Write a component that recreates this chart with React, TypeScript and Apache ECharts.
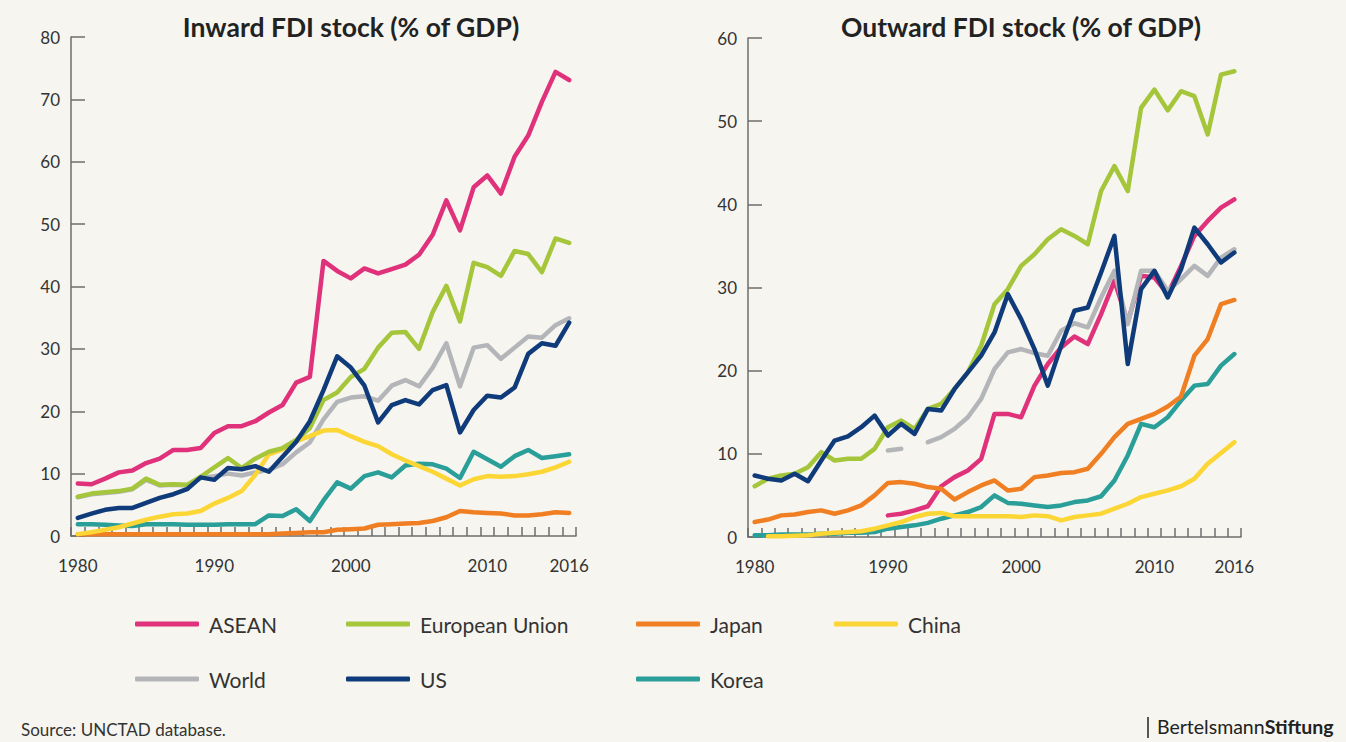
import React, { useEffect, useRef } from "react";
import * as echarts from "echarts";

const years: string[] = [];
for (let y = 1980; y <= 2016; y++) years.push(String(y));
const labelYears = ["1980", "1990", "2000", "2010", "2016"];

// Inward FDI stock (% of GDP)
const aseanIn = [8.4, 8.3, 9.2, 10.2, 10.5, 11.7, 12.4, 13.8, 13.8, 14.1, 16.5, 17.6, 17.6, 18.4, 19.8, 21.0, 24.6, 25.5, 44.1, 42.5, 41.3, 42.9, 42.1, 42.8, 43.5, 45.1, 48.3, 53.8, 49.0, 55.9, 57.8, 54.9, 60.8, 64.2, 69.6, 74.4, 73.1];
const euIn = [6.3, 6.8, 7.0, 7.2, 7.6, 9.2, 8.2, 8.3, 8.2, 9.5, 11.0, 12.5, 10.9, 12.4, 13.5, 14.1, 15.4, 17.3, 21.8, 23.0, 25.5, 26.8, 30.2, 32.6, 32.7, 30.0, 35.9, 40.1, 34.4, 43.8, 43.1, 41.7, 45.7, 45.2, 42.3, 47.7, 47.0];
const japanIn = [0.3, 0.3, 0.3, 0.3, 0.3, 0.3, 0.3, 0.3, 0.3, 0.3, 0.3, 0.3, 0.3, 0.3, 0.3, 0.4, 0.5, 0.6, 0.6, 1.0, 1.1, 1.2, 1.8, 1.9, 2.0, 2.1, 2.4, 3.0, 4.0, 3.8, 3.7, 3.6, 3.3, 3.3, 3.5, 3.8, 3.7];
const chinaIn = [0.3, 0.6, 1.0, 1.4, 2.0, 2.6, 3.1, 3.5, 3.6, 4.0, 5.2, 6.1, 7.2, 9.8, 13.1, 13.9, 15.2, 16.0, 16.9, 17.0, 16.0, 15.1, 14.4, 13.1, 12.1, 11.2, 10.3, 9.2, 8.1, 9.1, 9.6, 9.5, 9.6, 9.9, 10.3, 11.0, 11.9];
const worldIn = [6.2, 6.7, 6.9, 7.1, 7.5, 9.0, 8.1, 8.2, 8.1, 9.3, 9.6, 10.0, 9.7, 10.2, 10.6, 11.5, 13.4, 15.0, 18.7, 21.5, 22.2, 22.4, 21.7, 24.1, 25.0, 24.0, 27.0, 30.9, 24.0, 30.2, 30.6, 28.4, 30.2, 32.0, 31.8, 33.8, 34.9];
const usIn = [2.9, 3.6, 4.2, 4.5, 4.5, 5.3, 6.1, 6.7, 7.5, 9.4, 9.0, 10.9, 10.7, 11.2, 10.3, 12.7, 15.1, 18.4, 23.4, 28.8, 27.0, 24.1, 18.2, 21.0, 21.8, 21.1, 23.4, 24.2, 16.6, 20.2, 22.5, 22.2, 23.8, 29.2, 30.9, 30.5, 34.2];
const koreaIn = [1.9, 1.9, 1.8, 1.7, 1.6, 1.9, 1.9, 1.9, 1.8, 1.8, 1.8, 1.9, 1.9, 1.9, 3.3, 3.2, 4.3, 2.4, 5.7, 8.6, 7.6, 9.6, 10.2, 9.4, 11.3, 11.6, 11.5, 10.8, 9.3, 13.5, 12.3, 11.1, 12.8, 13.8, 12.5, 12.8, 13.1];

// Outward FDI stock (% of GDP)
const aseanOut = [null, null, null, null, null, null, null, null, null, null, 2.6, 2.8, 3.2, 3.7, 6.1, 7.2, 8.0, 9.4, 14.8, 14.8, 14.4, 18.2, 20.8, 22.8, 24.1, 23.2, 26.8, 30.8, 25.8, 31.4, 31.2, 29.2, 32.6, 36.2, 38.0, 39.6, 40.6];
const euOut = [6.1, 7.0, 7.4, 7.6, 8.4, 10.2, 9.2, 9.4, 9.4, 10.6, 13.2, 14.0, 13.0, 15.4, 16.0, 17.8, 19.8, 23.0, 28.0, 29.8, 32.6, 34.0, 35.8, 37.0, 36.2, 35.2, 41.6, 44.6, 41.6, 51.6, 53.8, 51.3, 53.6, 53.0, 48.4, 55.6, 56.0];
const japanOut = [1.8, 2.1, 2.6, 2.7, 3.0, 3.2, 2.8, 3.2, 3.8, 5.0, 6.5, 6.6, 6.4, 6.0, 5.8, 4.5, 5.4, 6.2, 6.8, 5.6, 5.8, 7.2, 7.4, 7.7, 7.8, 8.2, 10.0, 12.0, 13.6, 14.2, 14.8, 15.7, 16.9, 21.8, 23.8, 28.0, 28.5];
const chinaOut = [null, 0.1, 0.1, 0.15, 0.2, 0.4, 0.5, 0.6, 0.7, 1.0, 1.4, 1.8, 2.4, 2.8, 2.9, 2.5, 2.5, 2.5, 2.5, 2.5, 2.4, 2.6, 2.5, 2.0, 2.4, 2.6, 2.8, 3.4, 4.0, 4.8, 5.2, 5.6, 6.1, 7.0, 8.8, 10.1, 11.4];
const worldOut = [null, null, null, null, null, null, null, null, null, null, 10.4, 10.6, null, 11.4, 12.0, 13.0, 14.4, 16.6, 20.2, 22.2, 22.6, 22.1, 21.8, 24.8, 25.7, 25.2, 28.8, 32.0, 25.6, 32.0, 32.0, 29.6, 31.0, 32.6, 31.4, 33.6, 34.6];
const usOut = [7.4, 7.0, 6.8, 7.6, 6.7, 9.2, 11.6, 12.1, 13.2, 14.6, 12.2, 13.6, 12.4, 15.4, 15.2, 17.8, 19.8, 21.8, 24.6, 29.2, 26.2, 22.6, 18.2, 23.0, 27.2, 27.6, 31.8, 36.2, 20.8, 29.8, 32.0, 28.8, 32.2, 37.2, 35.2, 33.0, 34.2];
const koreaOut = [0.2, 0.2, 0.3, 0.3, 0.3, 0.4, 0.4, 0.5, 0.5, 0.6, 1.0, 1.2, 1.4, 1.7, 2.2, 2.6, 3.0, 3.6, 5.0, 4.1, 4.0, 3.8, 3.6, 3.8, 4.2, 4.4, 4.9, 6.8, 9.8, 13.6, 13.2, 14.4, 16.4, 18.2, 18.4, 20.6, 22.0];

const COLORS: Record<string, string> = {
  ASEAN: "#e0317b",
  "European Union": "#a5c63b",
  Japan: "#ef7f22",
  China: "#fbd634",
  World: "#b3b5b8",
  US: "#103b7a",
  Korea: "#2a9e98",
};

const FONT = "Lato, 'Open Sans', sans-serif";
const AXIS_COLOR = "#6d6d6d";
const TEXT_COLOR = "#333333";

function App() {
  const ref = useRef<HTMLDivElement>(null);

  useEffect(() => {
    if (!ref.current) return;
    const chart = echarts.init(ref.current, undefined, { renderer: "svg" });

    const mkLine = (name: string, data: (number | null)[], idx: number) => ({
      name,
      type: "line",
      xAxisIndex: idx,
      yAxisIndex: idx,
      data,
      symbol: "none",
      connectNulls: false,
      lineStyle: { color: COLORS[name], width: 4.5, cap: "round", join: "round" },
      itemStyle: { color: COLORS[name] },
      emphasis: { disabled: true },
    });

    const xAxisBase = (gridIndex: number) => ({
      type: "category",
      gridIndex,
      data: years,
      boundaryGap: true,
      axisLine: { show: true, lineStyle: { color: AXIS_COLOR, width: 1.5 } },
      axisTick: { show: true, inside: true, length: 9, interval: 0, lineStyle: { color: AXIS_COLOR, width: 1.5 } },
      axisLabel: {
        interval: (_i: number, v: string) => labelYears.includes(v),
        margin: 21,
        fontSize: 17,
        color: TEXT_COLOR,
        fontFamily: FONT,
      },
      splitLine: { show: false },
    });

    const yAxisBase = (gridIndex: number, max: number) => ({
      type: "value",
      gridIndex,
      min: 0,
      max,
      interval: 10,
      axisLine: { show: true, lineStyle: { color: AXIS_COLOR, width: 1.5 } },
      axisTick: { show: true, inside: true, length: 14, lineStyle: { color: AXIS_COLOR, width: 1.5 } },
      axisLabel: { margin: 11, fontSize: 17, color: TEXT_COLOR, fontFamily: FONT },
      splitLine: { show: false },
    });

    const legendItems: [string, number, number][] = [
      ["ASEAN", 135, 624],
      ["European Union", 346, 624],
      ["Japan", 636, 624],
      ["China", 834, 624],
      ["World", 135, 679],
      ["US", 346, 679],
      ["Korea", 636, 679],
    ];

    chart.setOption({
      animation: false,
      backgroundColor: "#f6f5ef",
      title: [
        {
          text: "Inward FDI stock (% of GDP)",
          left: 346,
          top: 8,
          textAlign: "center",
          textStyle: { fontSize: 26.5, fontWeight: "bold", color: "#222", fontFamily: FONT },
        },
        {
          text: "Outward FDI stock (% of GDP)",
          left: 1016,
          top: 8,
          textAlign: "center",
          textStyle: { fontSize: 26.5, fontWeight: "bold", color: "#222", fontFamily: FONT },
        },
      ],
      legend: legendItems.map(([name, x, y]) => ({
        data: [name],
        left: x,
        top: y - 12,
        padding: 0,
        itemWidth: 64,
        itemHeight: 5,
        icon: "roundRect",
        selectedMode: false,
        textStyle: { fontSize: 21, color: TEXT_COLOR, fontFamily: FONT, padding: [0, 0, 0, 5], lineHeight: 24 },
      })),
      grid: [
        { left: 71, top: 37, width: 505, height: 499, containLabel: false, outerBoundsMode: "none" },
        { left: 748, top: 38, width: 493, height: 499, containLabel: false, outerBoundsMode: "none" },
      ],
      xAxis: [xAxisBase(0), xAxisBase(1)],
      yAxis: [yAxisBase(0, 80), yAxisBase(1, 60)],
      series: [
        mkLine("World", worldIn, 0),
        mkLine("Japan", japanIn, 0),
        mkLine("Korea", koreaIn, 0),
        mkLine("China", chinaIn, 0),
        mkLine("European Union", euIn, 0),
        mkLine("ASEAN", aseanIn, 0),
        mkLine("US", usIn, 0),
        mkLine("ASEAN", aseanOut, 1),
        mkLine("World", worldOut, 1),
        mkLine("Korea", koreaOut, 1),
        mkLine("Japan", japanOut, 1),
        mkLine("China", chinaOut, 1),
        mkLine("European Union", euOut, 1),
        mkLine("US", usOut, 1),
      ],
      graphic: [
        {
          type: "text",
          left: 21,
          top: 721,
          style: { text: "Source: UNCTAD database.", fontSize: 17, fill: TEXT_COLOR, fontFamily: FONT },
        },
        {
          type: "line",
          shape: { x1: 1148, y1: 717, x2: 1148, y2: 738 },
          style: { stroke: "#222", lineWidth: 1.5 },
        },
        {
          type: "text",
          left: 1157,
          top: 716,
          style: {
            text: "{a|Bertelsmann}{b|Stiftung}",
            rich: {
              a: { fontSize: 19.5, fill: "#222", fontFamily: FONT },
              b: { fontSize: 19.5, fill: "#222", fontFamily: FONT, fontWeight: "bold" },
            },
          },
        },
      ],
    });

    return () => chart.dispose();
  }, []);

  return (
    <div
      ref={ref}
      style={{ position: "absolute", left: 0, top: 0, width: 1346, height: 742 }}
    />
  );
}

export default App;
